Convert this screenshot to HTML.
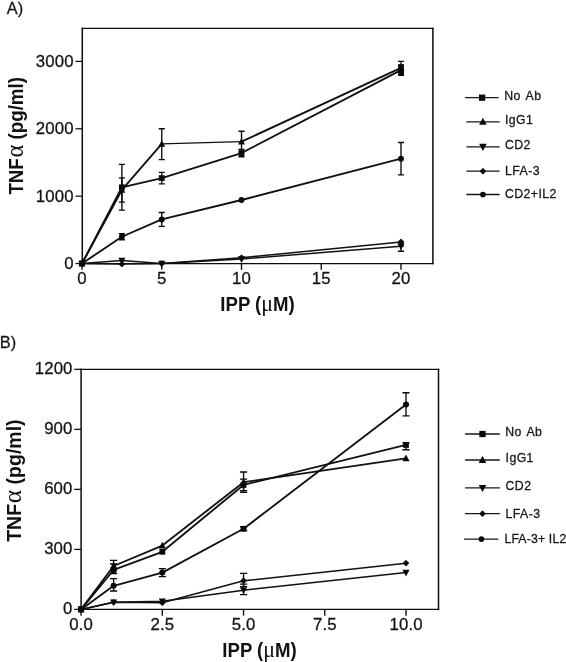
<!DOCTYPE html>
<html><head><meta charset="utf-8"><title>TNF alpha charts</title>
<style>html,body{margin:0;padding:0;background:#fff}body{width:566px;height:662px;overflow:hidden;font-family:"Liberation Sans",sans-serif}svg{display:block;filter:grayscale(1)}</style>
</head><body>
<svg width="566" height="662" viewBox="0 0 566 662">
<rect width="566" height="662" fill="#fff"/>
<text x="6.8" y="13.7" font-family="Liberation Sans, sans-serif" font-size="16.3" fill="#161616" stroke="#161616" stroke-width="0.28" stroke-linejoin="round">A)</text>
<text x="-0.2" y="348.0" font-family="Liberation Sans, sans-serif" font-size="16.4" fill="#161616" stroke="#161616" stroke-width="0.28" stroke-linejoin="round">B)</text>
<path d="M81.55 28.35H433.65M81.55 263.55H433.65" fill="none" stroke="#0d0d0d" stroke-width="1.25"/>
<path d="M82.3 27.73V264.18M432.9 27.73V264.18" fill="none" stroke="#0d0d0d" stroke-width="1.5"/>
<path d="M75.50 263.55H82.3" stroke="#0d0d0d" stroke-width="1.25"/>
<text x="73.60" y="268.55" text-anchor="end" font-family="Liberation Sans, sans-serif" font-size="16.8" letter-spacing="0.1" fill="#111" stroke="#161616" stroke-width="0.28" stroke-linejoin="round">0</text>
<path d="M75.50 196.17H82.3" stroke="#0d0d0d" stroke-width="1.25"/>
<text x="73.60" y="201.67" text-anchor="end" font-family="Liberation Sans, sans-serif" font-size="16.8" letter-spacing="0.1" fill="#111" stroke="#161616" stroke-width="0.28" stroke-linejoin="round">1000</text>
<path d="M75.50 128.79H82.3" stroke="#0d0d0d" stroke-width="1.25"/>
<text x="73.60" y="134.29" text-anchor="end" font-family="Liberation Sans, sans-serif" font-size="16.8" letter-spacing="0.1" fill="#111" stroke="#161616" stroke-width="0.28" stroke-linejoin="round">2000</text>
<path d="M75.50 61.41H82.3" stroke="#0d0d0d" stroke-width="1.25"/>
<text x="73.60" y="66.91" text-anchor="end" font-family="Liberation Sans, sans-serif" font-size="16.8" letter-spacing="0.1" fill="#111" stroke="#161616" stroke-width="0.28" stroke-linejoin="round">3000</text>
<path d="M82.00 263.55V269.85" stroke="#0d0d0d" stroke-width="1.35"/>
<text x="82.05" y="284.20" text-anchor="middle" font-family="Liberation Sans, sans-serif" font-size="16.8" letter-spacing="0.1" fill="#111" stroke="#161616" stroke-width="0.28" stroke-linejoin="round">0</text>
<path d="M161.75 263.55V269.85" stroke="#0d0d0d" stroke-width="1.35"/>
<text x="161.80" y="284.20" text-anchor="middle" font-family="Liberation Sans, sans-serif" font-size="16.8" letter-spacing="0.1" fill="#111" stroke="#161616" stroke-width="0.28" stroke-linejoin="round">5</text>
<path d="M241.50 263.55V269.85" stroke="#0d0d0d" stroke-width="1.35"/>
<text x="241.55" y="284.20" text-anchor="middle" font-family="Liberation Sans, sans-serif" font-size="16.8" letter-spacing="0.1" fill="#111" stroke="#161616" stroke-width="0.28" stroke-linejoin="round">10</text>
<path d="M321.25 263.55V269.85" stroke="#0d0d0d" stroke-width="1.35"/>
<text x="321.30" y="284.20" text-anchor="middle" font-family="Liberation Sans, sans-serif" font-size="16.8" letter-spacing="0.1" fill="#111" stroke="#161616" stroke-width="0.28" stroke-linejoin="round">15</text>
<path d="M401.00 263.55V269.85" stroke="#0d0d0d" stroke-width="1.35"/>
<text x="401.05" y="284.20" text-anchor="middle" font-family="Liberation Sans, sans-serif" font-size="16.8" letter-spacing="0.1" fill="#111" stroke="#161616" stroke-width="0.28" stroke-linejoin="round">20</text>
<path d="M82.00 263.55L121.88 187.28L161.75 178.11L241.50 153.05L401.00 70.17" fill="none" stroke="#111" stroke-width="1.85" stroke-linejoin="round"/>
<path d="M82.00 263.55L121.88 189.97" fill="none" stroke="#111" stroke-width="1.85" stroke-linecap="round"/>
<path d="M121.88 189.97L161.75 143.95" fill="none" stroke="#111" stroke-width="1.85" stroke-linecap="round"/>
<path d="M161.75 143.95L241.50 141.66" fill="none" stroke="#111" stroke-width="1.2" stroke-linecap="round"/>
<path d="M241.50 141.66L401.00 67.81" fill="none" stroke="#111" stroke-width="1.85" stroke-linecap="round"/>
<path d="M82.00 263.55L121.88 236.73L161.75 219.42L241.50 200.01L401.00 158.71" fill="none" stroke="#111" stroke-width="1.85" stroke-linejoin="round"/>
<path d="M82.00 263.55L121.88 260.45L161.75 263.55L241.50 259.04L401.00 246.17" fill="none" stroke="#111" stroke-width="1.5" stroke-linejoin="round"/>
<path d="M82.00 263.55L121.88 264.09L161.75 263.55L241.50 257.76L401.00 241.99" fill="none" stroke="#111" stroke-width="1.5" stroke-linejoin="round"/>
<path d="M121.88 164.37V210.19M118.83 164.37H124.92M118.83 210.19H124.92" fill="none" stroke="#0a0a0a" stroke-width="1.35"/>
<path d="M161.75 172.32V183.91M158.70 172.32H164.80M158.70 183.91H164.80" fill="none" stroke="#0a0a0a" stroke-width="1.35"/>
<path d="M241.50 149.34V156.75M238.45 149.34H244.55M238.45 156.75H244.55" fill="none" stroke="#0a0a0a" stroke-width="1.35"/>
<path d="M401.00 65.12V75.22M397.95 65.12H404.05M397.95 75.22H404.05" fill="none" stroke="#0a0a0a" stroke-width="1.35"/>
<g fill="#0a0a0a">
<rect x="79.10" y="260.65" width="5.80" height="5.80"/>
<rect x="118.97" y="184.38" width="5.80" height="5.80"/>
<rect x="158.85" y="175.21" width="5.80" height="5.80"/>
<rect x="238.60" y="150.15" width="5.80" height="5.80"/>
<rect x="398.10" y="67.27" width="5.80" height="5.80"/>
</g>
<path d="M121.88 177.84V202.10M118.83 177.84H124.92M118.83 202.10H124.92" fill="none" stroke="#0a0a0a" stroke-width="1.35"/>
<path d="M161.75 128.79V159.58M158.70 128.79H164.80M158.70 159.58H164.80" fill="none" stroke="#0a0a0a" stroke-width="1.35"/>
<path d="M241.50 131.22V152.10M238.45 131.22H244.55M238.45 152.10H244.55" fill="none" stroke="#0a0a0a" stroke-width="1.35"/>
<path d="M401.00 61.41V71.85M397.95 61.41H404.05M397.95 71.85H404.05" fill="none" stroke="#0a0a0a" stroke-width="1.35"/>
<g fill="#0a0a0a">
<path d="M78.53 266.28L85.47 266.28L82.00 259.77Z"/>
<path d="M118.41 192.70L125.34 192.70L121.88 186.19Z"/>
<path d="M158.28 146.68L165.22 146.68L161.75 140.17Z"/>
<path d="M238.03 144.39L244.97 144.39L241.50 137.88Z"/>
<path d="M397.54 70.54L404.46 70.54L401.00 64.03Z"/>
</g>
<path d="M121.88 233.70V239.76M118.83 233.70H124.92M118.83 239.76H124.92" fill="none" stroke="#0a0a0a" stroke-width="1.35"/>
<path d="M161.75 212.48V226.36M158.70 212.48H164.80M158.70 226.36H164.80" fill="none" stroke="#0a0a0a" stroke-width="1.35"/>
<path d="M401.00 142.54V174.88M397.95 142.54H404.05M397.95 174.88H404.05" fill="none" stroke="#0a0a0a" stroke-width="1.35"/>
<g fill="#0a0a0a">
<circle cx="82.00" cy="263.55" r="2.96"/>
<circle cx="121.88" cy="236.73" r="2.96"/>
<circle cx="161.75" cy="219.42" r="2.96"/>
<circle cx="241.50" cy="200.01" r="2.96"/>
<circle cx="401.00" cy="158.71" r="2.96"/>
</g>
<path d="M401.00 246.17V251.22M397.95 246.17H404.05M397.95 251.22H404.05" fill="none" stroke="#0a0a0a" stroke-width="1.35"/>
<g fill="#0a0a0a">
<path d="M78.44 260.74L85.56 260.74L82.00 267.44Z"/>
<path d="M118.31 257.64L125.44 257.64L121.88 264.34Z"/>
<path d="M158.19 260.74L165.31 260.74L161.75 267.44Z"/>
<path d="M237.94 256.23L245.06 256.23L241.50 262.92Z"/>
<path d="M397.44 243.36L404.56 243.36L401.00 250.05Z"/>
</g>
<g fill="#0a0a0a">
<path d="M79.45 263.55L82.00 261.00L84.55 263.55L82.00 266.10Z" stroke="#0a0a0a" stroke-width="1.1" stroke-linejoin="round"/>
<path d="M119.33 264.09L121.88 261.54L124.42 264.09L121.88 266.64Z" stroke="#0a0a0a" stroke-width="1.1" stroke-linejoin="round"/>
<path d="M159.20 263.55L161.75 261.00L164.30 263.55L161.75 266.10Z" stroke="#0a0a0a" stroke-width="1.1" stroke-linejoin="round"/>
<path d="M238.95 257.76L241.50 255.21L244.05 257.76L241.50 260.31Z" stroke="#0a0a0a" stroke-width="1.1" stroke-linejoin="round"/>
<path d="M398.45 241.99L401.00 239.44L403.55 241.99L401.00 244.54Z" stroke="#0a0a0a" stroke-width="1.1" stroke-linejoin="round"/>
</g>
<rect x="398.2" y="64.3" width="5.7" height="11.0" fill="#0a0a0a"/>
<text transform="translate(220.3 310.6) scale(0.955,1)" font-family="Liberation Sans, sans-serif" font-weight="bold" font-size="19.5" fill="#111">IPP (<tspan font-family="Liberation Serif, serif" font-weight="normal" font-size="23">μ</tspan>M)</text>
<text transform="translate(23.0 194.6) rotate(-90) scale(0.937,1)" font-family="Liberation Sans, sans-serif" font-weight="bold" font-size="20.0" fill="#111">TNF<tspan font-family="Liberation Serif, serif" font-weight="normal" font-size="26.0" dx="0.6">α</tspan><tspan dx="0.2"> (pg/ml)</tspan></text>
<path d="M465.2 97.7H498.6" stroke="#161616" stroke-width="1.3"/>
<g fill="#0a0a0a"><rect x="478.97" y="94.57" width="6.26" height="6.26"/></g>
<text x="504.2" y="99.6" font-family="Liberation Sans, sans-serif" font-size="12.3" letter-spacing="0.42" word-spacing="1.6" fill="#161616" stroke="#161616" stroke-width="0.28" stroke-linejoin="round">No Ab</text>
<path d="M466.4 121.8H499.6" stroke="#161616" stroke-width="1.3"/>
<g fill="#0a0a0a"><path d="M479.10 124.79L486.69 124.79L482.90 117.66Z"/></g>
<text x="505.0" y="124.0" font-family="Liberation Sans, sans-serif" font-size="12.3" letter-spacing="0.42" word-spacing="0" fill="#161616" stroke="#161616" stroke-width="0.28" stroke-linejoin="round">IgG1</text>
<path d="M466.4 146.8H499.6" stroke="#161616" stroke-width="1.3"/>
<g fill="#0a0a0a"><path d="M479.10 143.81L486.69 143.81L482.90 150.94Z"/></g>
<text x="505.0" y="148.8" font-family="Liberation Sans, sans-serif" font-size="12.3" letter-spacing="0.42" word-spacing="0" fill="#161616" stroke="#161616" stroke-width="0.28" stroke-linejoin="round">CD2</text>
<path d="M466.4 171.2H499.6" stroke="#161616" stroke-width="1.3"/>
<g fill="#0a0a0a"><path d="M480.35 171.20L482.90 168.65L485.45 171.20L482.90 173.75Z" stroke="#0a0a0a" stroke-width="1.1" stroke-linejoin="round"/></g>
<text x="505.0" y="174.7" font-family="Liberation Sans, sans-serif" font-size="12.3" letter-spacing="0.42" word-spacing="0" fill="#161616" stroke="#161616" stroke-width="0.28" stroke-linejoin="round">LFA-3</text>
<path d="M466.4 194.5H499.6" stroke="#161616" stroke-width="1.3"/>
<g fill="#0a0a0a"><circle cx="482.90" cy="194.50" r="2.84"/></g>
<text x="505.0" y="198.3" font-family="Liberation Sans, sans-serif" font-size="12.3" letter-spacing="0.42" word-spacing="0" fill="#161616" stroke="#161616" stroke-width="0.28" stroke-linejoin="round">CD2+IL2</text>
<path d="M80.35 369.3H439.25M80.35 609.4H439.25" fill="none" stroke="#0d0d0d" stroke-width="1.25"/>
<path d="M81.1 368.68V610.02M438.5 368.68V610.02" fill="none" stroke="#0d0d0d" stroke-width="1.5"/>
<path d="M74.30 609.40H81.1" stroke="#0d0d0d" stroke-width="1.25"/>
<text x="72.50" y="614.00" text-anchor="end" font-family="Liberation Sans, sans-serif" font-size="16.8" letter-spacing="0.1" fill="#111" stroke="#161616" stroke-width="0.28" stroke-linejoin="round">0</text>
<path d="M74.30 549.38H81.1" stroke="#0d0d0d" stroke-width="1.25"/>
<text x="72.50" y="554.28" text-anchor="end" font-family="Liberation Sans, sans-serif" font-size="16.8" letter-spacing="0.1" fill="#111" stroke="#161616" stroke-width="0.28" stroke-linejoin="round">300</text>
<path d="M74.30 489.35H81.1" stroke="#0d0d0d" stroke-width="1.25"/>
<text x="72.50" y="494.25" text-anchor="end" font-family="Liberation Sans, sans-serif" font-size="16.8" letter-spacing="0.1" fill="#111" stroke="#161616" stroke-width="0.28" stroke-linejoin="round">600</text>
<path d="M74.30 429.33H81.1" stroke="#0d0d0d" stroke-width="1.25"/>
<text x="72.50" y="434.23" text-anchor="end" font-family="Liberation Sans, sans-serif" font-size="16.8" letter-spacing="0.1" fill="#111" stroke="#161616" stroke-width="0.28" stroke-linejoin="round">900</text>
<path d="M74.30 369.30H81.1" stroke="#0d0d0d" stroke-width="1.25"/>
<text x="72.50" y="374.20" text-anchor="end" font-family="Liberation Sans, sans-serif" font-size="16.8" letter-spacing="0.1" fill="#111" stroke="#161616" stroke-width="0.28" stroke-linejoin="round">1200</text>
<path d="M81.10 609.4V615.70" stroke="#0d0d0d" stroke-width="1.35"/>
<text x="81.15" y="629.70" text-anchor="middle" font-family="Liberation Sans, sans-serif" font-size="16.8" letter-spacing="0.1" fill="#111" stroke="#161616" stroke-width="0.28" stroke-linejoin="round">0.0</text>
<path d="M162.32 609.4V615.70" stroke="#0d0d0d" stroke-width="1.35"/>
<text x="162.38" y="629.70" text-anchor="middle" font-family="Liberation Sans, sans-serif" font-size="16.8" letter-spacing="0.1" fill="#111" stroke="#161616" stroke-width="0.28" stroke-linejoin="round">2.5</text>
<path d="M243.55 609.4V615.70" stroke="#0d0d0d" stroke-width="1.35"/>
<text x="243.60" y="629.70" text-anchor="middle" font-family="Liberation Sans, sans-serif" font-size="16.8" letter-spacing="0.1" fill="#111" stroke="#161616" stroke-width="0.28" stroke-linejoin="round">5.0</text>
<path d="M324.77 609.4V615.70" stroke="#0d0d0d" stroke-width="1.35"/>
<text x="324.82" y="629.70" text-anchor="middle" font-family="Liberation Sans, sans-serif" font-size="16.8" letter-spacing="0.1" fill="#111" stroke="#161616" stroke-width="0.28" stroke-linejoin="round">7.5</text>
<path d="M406.00 609.4V615.70" stroke="#0d0d0d" stroke-width="1.35"/>
<text x="406.05" y="629.70" text-anchor="middle" font-family="Liberation Sans, sans-serif" font-size="16.8" letter-spacing="0.1" fill="#111" stroke="#161616" stroke-width="0.28" stroke-linejoin="round">10.0</text>
<path d="M81.10 609.40L113.59 569.98L162.32 551.78L243.55 484.95L406.00 444.93" fill="none" stroke="#111" stroke-width="1.85" stroke-linejoin="round"/>
<path d="M81.10 609.40L113.59 565.98L162.32 545.57L243.55 482.15L406.00 458.34" fill="none" stroke="#111" stroke-width="1.85" stroke-linejoin="round"/>
<path d="M81.10 609.40L113.59 585.79L162.32 572.59L243.55 528.77L406.00 404.52" fill="none" stroke="#111" stroke-width="1.85" stroke-linejoin="round"/>
<path d="M81.10 609.40L113.59 602.20L162.32 601.20L243.55 590.19L406.00 572.59" fill="none" stroke="#111" stroke-width="1.5" stroke-linejoin="round"/>
<path d="M81.10 609.40L113.59 602.20L162.32 602.80L243.55 580.79L406.00 563.18" fill="none" stroke="#111" stroke-width="1.5" stroke-linejoin="round"/>
<path d="M113.59 563.98V573.59M109.99 563.98H117.19M109.99 573.59H117.19" fill="none" stroke="#0a0a0a" stroke-width="1.35"/>
<path d="M243.55 479.15V490.75M239.95 479.15H247.15M239.95 490.75H247.15" fill="none" stroke="#0a0a0a" stroke-width="1.35"/>
<path d="M406.00 442.93V449.74M402.40 442.93H409.60M402.40 449.74H409.60" fill="none" stroke="#0a0a0a" stroke-width="1.35"/>
<g fill="#0a0a0a">
<rect x="78.20" y="606.50" width="5.80" height="5.80"/>
<rect x="110.69" y="567.08" width="5.80" height="5.80"/>
<rect x="159.42" y="548.88" width="5.80" height="5.80"/>
<rect x="240.65" y="482.05" width="5.80" height="5.80"/>
<rect x="403.10" y="442.03" width="5.80" height="5.80"/>
</g>
<path d="M113.59 560.38V569.98M109.99 560.38H117.19M109.99 569.98H117.19" fill="none" stroke="#0a0a0a" stroke-width="1.35"/>
<path d="M243.55 471.95V492.35M239.95 471.95H247.15M239.95 492.35H247.15" fill="none" stroke="#0a0a0a" stroke-width="1.35"/>
<g fill="#0a0a0a">
<path d="M77.54 612.21L84.66 612.21L81.10 605.51Z"/>
<path d="M110.03 568.79L117.15 568.79L113.59 562.09Z"/>
<path d="M158.76 548.38L165.89 548.38L162.32 541.69Z"/>
<path d="M239.99 484.96L247.11 484.96L243.55 478.26Z"/>
<path d="M402.44 461.15L409.56 461.15L406.00 454.45Z"/>
</g>
<path d="M113.59 578.59V590.99M109.99 578.59H117.19M109.99 590.99H117.19" fill="none" stroke="#0a0a0a" stroke-width="1.35"/>
<path d="M162.32 568.58V576.59M158.72 568.58H165.92M158.72 576.59H165.92" fill="none" stroke="#0a0a0a" stroke-width="1.35"/>
<path d="M243.55 526.77V530.77M239.95 526.77H247.15M239.95 530.77H247.15" fill="none" stroke="#0a0a0a" stroke-width="1.35"/>
<path d="M406.00 392.71V415.92M402.40 392.71H409.60M402.40 415.92H409.60" fill="none" stroke="#0a0a0a" stroke-width="1.35"/>
<g fill="#0a0a0a">
<circle cx="81.10" cy="609.40" r="3.04"/>
<circle cx="113.59" cy="585.79" r="3.04"/>
<circle cx="162.32" cy="572.59" r="3.04"/>
<circle cx="243.55" cy="528.77" r="3.04"/>
<circle cx="406.00" cy="404.52" r="3.04"/>
</g>
<path d="M243.55 584.19V594.59M239.95 584.19H247.15M239.95 594.59H247.15" fill="none" stroke="#0a0a0a" stroke-width="1.35"/>
<g fill="#0a0a0a">
<path d="M77.54 606.59L84.66 606.59L81.10 613.29Z"/>
<path d="M110.03 599.39L117.15 599.39L113.59 606.09Z"/>
<path d="M158.76 598.39L165.89 598.39L162.32 605.08Z"/>
<path d="M239.99 587.38L247.11 587.38L243.55 594.08Z"/>
<path d="M402.44 569.78L409.56 569.78L406.00 576.47Z"/>
</g>
<path d="M243.55 573.39V586.79M239.95 573.39H247.15M239.95 586.79H247.15" fill="none" stroke="#0a0a0a" stroke-width="1.35"/>
<g fill="#0a0a0a">
<path d="M78.55 609.40L81.10 606.85L83.65 609.40L81.10 611.95Z" stroke="#0a0a0a" stroke-width="1.1" stroke-linejoin="round"/>
<path d="M111.04 602.20L113.59 599.65L116.14 602.20L113.59 604.75Z" stroke="#0a0a0a" stroke-width="1.1" stroke-linejoin="round"/>
<path d="M159.77 602.80L162.32 600.25L164.88 602.80L162.32 605.35Z" stroke="#0a0a0a" stroke-width="1.1" stroke-linejoin="round"/>
<path d="M241.00 580.79L243.55 578.24L246.10 580.79L243.55 583.34Z" stroke="#0a0a0a" stroke-width="1.1" stroke-linejoin="round"/>
<path d="M403.45 563.18L406.00 560.63L408.55 563.18L406.00 565.73Z" stroke="#0a0a0a" stroke-width="1.1" stroke-linejoin="round"/>
</g>
<text transform="translate(222.3 657.4) scale(0.955,1)" font-family="Liberation Sans, sans-serif" font-weight="bold" font-size="19.5" fill="#111">IPP (<tspan font-family="Liberation Serif, serif" font-weight="normal" font-size="23">μ</tspan>M)</text>
<text transform="translate(21.2 541.8) rotate(-90) scale(0.995,1)" font-family="Liberation Sans, sans-serif" font-weight="bold" font-size="19.6" fill="#111">TNF<tspan font-family="Liberation Serif, serif" font-weight="normal" font-size="25.5" dx="0.6">α</tspan><tspan dx="0.2"> (pg/ml)</tspan></text>
<path d="M465.1 434.0H499.8" stroke="#161616" stroke-width="1.3"/>
<g fill="#0a0a0a"><rect x="479.37" y="430.87" width="6.26" height="6.26"/></g>
<text x="505.2" y="436.1" font-family="Liberation Sans, sans-serif" font-size="12.3" letter-spacing="0.4" word-spacing="1.6" fill="#161616" stroke="#161616" stroke-width="0.28" stroke-linejoin="round">No Ab</text>
<path d="M465.1 460.0H499.8" stroke="#161616" stroke-width="1.3"/>
<g fill="#0a0a0a"><path d="M478.70 462.99L486.30 462.99L482.50 455.86Z"/></g>
<text x="505.6" y="462.4" font-family="Liberation Sans, sans-serif" font-size="12.3" letter-spacing="0.4" word-spacing="0" fill="#161616" stroke="#161616" stroke-width="0.28" stroke-linejoin="round">IgG1</text>
<path d="M465.1 487.9H499.8" stroke="#161616" stroke-width="1.3"/>
<g fill="#0a0a0a"><path d="M478.70 484.91L486.30 484.91L482.50 492.04Z"/></g>
<text x="505.6" y="490.0" font-family="Liberation Sans, sans-serif" font-size="12.3" letter-spacing="0.4" word-spacing="0" fill="#161616" stroke="#161616" stroke-width="0.28" stroke-linejoin="round">CD2</text>
<path d="M465.1 513.7H499.8" stroke="#161616" stroke-width="1.3"/>
<g fill="#0a0a0a"><path d="M479.95 513.70L482.50 511.15L485.05 513.70L482.50 516.25Z" stroke="#0a0a0a" stroke-width="1.1" stroke-linejoin="round"/></g>
<text x="505.6" y="517.5" font-family="Liberation Sans, sans-serif" font-size="12.3" letter-spacing="0.4" word-spacing="0" fill="#161616" stroke="#161616" stroke-width="0.28" stroke-linejoin="round">LFA-3</text>
<path d="M464.1 539.1H498.3" stroke="#161616" stroke-width="1.3"/>
<g fill="#0a0a0a"><circle cx="481.40" cy="539.10" r="2.84"/></g>
<text x="504.4" y="542.9" font-family="Liberation Sans, sans-serif" font-size="12.3" letter-spacing="0.15" word-spacing="0" fill="#161616" stroke="#161616" stroke-width="0.28" stroke-linejoin="round">LFA-3+ IL2</text>
</svg>
</body></html>
